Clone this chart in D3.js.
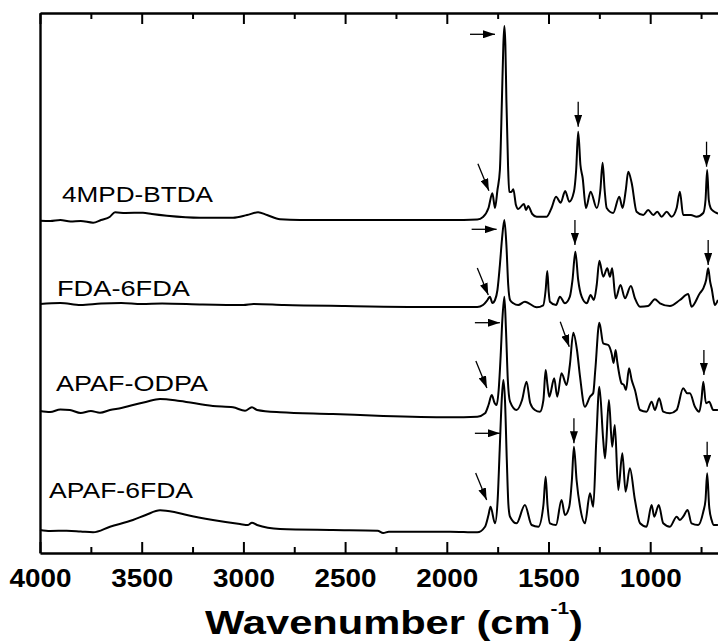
<!DOCTYPE html>
<html>
<head>
<meta charset="utf-8">
<script src="https://cdn.jsdelivr.net/npm/d3@7"></script>
<style>
  body { margin: 0; background: #fff; }
  svg { display: block; font-family: "Liberation Sans", Arial, sans-serif; }
</style>
</head>
<body>
<svg id="chart" width="718" height="642"></svg>
<script>
// FTIR spectra, values in arbitrary units (stacked, offset included)
const seriesNames = ["4MPD-BTDA", "FDA-6FDA", "APAF-ODPA", "APAF-6FDA"];

const btdaW = [4000,3950,3900,3850,3800,3739,3700,3656,3631,3580,3494,3450,3376,3213,3051,2982,2928,2884,2820,2722,2400,1984,1850,1822,1795,1776,1763,1751,1739,1729,1722,1717,1712,1707,1699,1693,1683,1673,1660,1649,1621,1610,1600,1580,1558,1509,1485,1463,1440,1418,1398,1375,1364,1354,1343,1332,1316,1293,1263,1245,1234,1224,1214,1182,1152,1136,1120,1108,1091,1067,1034,1010,985,965,944,919,895,870,854,838,800,772,739,728,720,712,703,690,673,650];
const btdaV = [332.3,332,333,331.5,332,330.3,333,336.3,340.7,340,340.3,339,337.3,335.3,335.3,338,340.7,338,333.7,333,333,333,333.5,336,345,359.7,345,363,383,453,508,527,508,453,388,361.3,361,363.7,348,344,349,343,347,339,336.3,336.3,345,356.3,350.3,362,351.3,361.3,383,421.3,388,375,345,361.3,345,363,390.3,363,345,340,356.3,345,363,381.3,370,341.3,338,343,338,341.3,336.3,341.3,336.3,345,361.3,338,338,336.3,340,353,383,353,345,342,340,339];

const fdaW = [4000,3900,3800,3700,3600,3500,3400,3200,3000,2950,2800,2500,2000,1850,1822,1800,1788,1776,1763,1751,1739,1729,1717,1707,1698,1689,1673,1649,1616,1558,1526,1514,1506,1499,1493,1463,1444,1419,1395,1382,1368,1354,1337,1312,1293,1277,1263,1250,1231,1211,1198,1187,1170,1146,1124,1095,1075,1050,1010,977,952,903,854,813,797,756,739,725,715,705,698,682,667];
const fdaV = [249,250,248,249.5,250,249,249.5,248.5,248,249,248,247,246,246,248,253,256.3,250,253,263,288,313,333,308,268,253,249.7,248,251.3,245.7,247.7,263,282,261,251.3,248,256.3,249.7,256.3,273,301.3,273,256.3,249.7,258,253,268,292.3,276.3,284.7,276.3,284.7,254.7,268,254.7,267,254.7,246.3,247,253.7,249.7,247,253,259,246.3,259.7,264.7,273,284.7,271,264.7,248,253];

const odpaW = [4000,3950,3900,3853,3800,3750,3705,3656,3600,3543,3480,3410,3312,3150,3051,2992,2958,2933,2820,2560,2313,1984,1850,1812,1795,1779,1765,1755,1745,1735,1727,1717,1709,1700,1689,1657,1630,1608,1590,1567,1542,1525,1514,1505,1496,1472,1457,1436,1411,1395,1378,1360,1345,1321,1296,1280,1270,1250,1231,1206,1190,1180,1170,1162,1141,1129,1119,1104,1091,1075,1050,1018,993,977,956,936,903,870,838,818,805,780,759,748,739,726,710,690,667];
const odpaV = [142,141,143.5,143,140,142,140.3,143,145,148,151,154,152,147,145.7,142.3,145.7,143,140.7,139,137,135.7,136.3,139.7,148,158,150,148,163,198,233,256.3,223,173,151.3,143,153,171.3,150,143,141.3,153,183,168,156.3,174.7,156.3,179.7,168,188,220.3,203,176.3,146.3,156.3,160,183,230.3,209.7,208,199.7,190,203,191.3,169.7,168,163,184.7,173,163,143,141.3,151.3,143,154.7,141.3,139.7,143,164.7,159.7,159.7,146.3,141.3,153,171.3,149.7,151.3,143,143];

const apafW = [4000,3950,3869,3800,3739,3656,3543,3480,3410,3340,3278,3150,3017,2977,2958,2933,2820,2560,2340,2313,2285,1984,1850,1812,1795,1785,1763,1750,1740,1730,1722,1714,1705,1697,1689,1657,1616,1583,1550,1525,1514,1505,1493,1463,1436,1419,1398,1385,1375,1362,1345,1321,1296,1280,1265,1250,1231,1222,1203,1187,1174,1157,1137,1121,1100,1075,1050,1018,993,980,958,936,903,870,854,838,816,797,764,739,728,720,710,698,687,667];
const apafV = [23,22,22.3,21.5,20.7,26.3,33,38,42.7,41,38,33,29,28,30.3,28,24,23,22.3,20,21.3,21.3,20.7,26.3,38,46.3,29.7,53,103,153,173,153,93,48,36.3,29.7,48,28,26.3,48,76.3,48,29.7,28,53,38,46.3,73,106.3,73,46.3,29.7,59.7,46.3,113,166.3,113,94.7,153,106.3,128,63,99.7,61.3,84.7,53,29.7,26.3,48,36.3,48,29.7,26.3,36.3,33,36.3,43,29.7,28,41.3,53,79.7,46.3,33,28,28];

// peak markers: tip position (wavenumber, a.u.) and direction
const arrowW = [1763,1793,1354,723, 1755,1796,1370,715, 1739,1398,1803,736, 1739,1804,1375,720];
const arrowV = [518.7,362.3,426.3,386.3, 323.7,258,308,288, 230.3,206.3,165,178, 119.7,53,109.7,86.3];
const arrowDir = ["h","d","v","v", "h","d","v","v", "h","d2","d","v", "h","d","v","v"];

const majorTicks = [4000,3500,3000,2500,2000,1500,1000];
const minorTicks = [3750,3250,2750,2250,1750,1250,750];

const series = [
  {name: seriesNames[0], w: btdaW, v: btdaV},
  {name: seriesNames[1], w: fdaW, v: fdaV},
  {name: seriesNames[2], w: odpaW, v: odpaV},
  {name: seriesNames[3], w: apafW, v: apafV}
];

// layout
const plotLeft = 40, plotTop = 13, plotBottom = 553;
const labelLayout = [
  {x: 62, y: 202, len: 151},
  {x: 57, y: 296, len: 133},
  {x: 56, y: 391, len: 152},
  {x: 49, y: 498, len: 144}
];

const svg = d3.select("#chart");

const x = d3.scaleLinear().domain([4000, 600]).range([plotLeft, plotLeft + 3400 * 0.2034]);
const y = d3.scaleLinear().domain([0, 540]).range([plotBottom, plotTop]);

svg.append("defs").append("marker")
  .attr("id", "head")
  .attr("markerUnits", "userSpaceOnUse")
  .attr("viewBox", "0 0 12 8")
  .attr("refX", 12).attr("refY", 4)
  .attr("markerWidth", 12).attr("markerHeight", 8)
  .attr("orient", "auto")
  .append("path")
  .attr("d", "M0,0 L12,4 L0,8 Z")
  .attr("fill", "#000");

// spectra
const line = d3.line()
  .x(d => x(d[0]))
  .y(d => y(d[1]))
  .curve(d3.curveMonotoneX);

svg.append("g")
  .selectAll("path")
  .data(series)
  .join("path")
  .attr("fill", "none")
  .attr("stroke", "#000")
  .attr("stroke-width", 2)
  .attr("stroke-linejoin", "round")
  .attr("d", s => line(s.w.map((w, i) => [w, s.v[i]])));

// arrows
const tailOffset = {h: [-25, 0], v: [0, -25], d: [-11, -27], d2: [-9, -25]};
svg.append("g")
  .selectAll("line")
  .data(arrowW.map((w, i) => ({w, v: arrowV[i], dir: arrowDir[i]})))
  .join("line")
  .attr("x1", d => x(d.w) + tailOffset[d.dir][0])
  .attr("y1", d => y(d.v) + tailOffset[d.dir][1])
  .attr("x2", d => x(d.w))
  .attr("y2", d => y(d.v))
  .attr("stroke", "#000")
  .attr("stroke-width", 1.3)
  .attr("marker-end", "url(#head)");

// series labels
svg.append("g")
  .selectAll("text")
  .data(series)
  .join("text")
  .attr("x", (d, i) => labelLayout[i].x)
  .attr("y", (d, i) => labelLayout[i].y)
  .attr("font-size", 22)
  .attr("textLength", (d, i) => labelLayout[i].len)
  .attr("lengthAdjust", "spacingAndGlyphs")
  .attr("fill", "#000")
  .text(d => d.name);

// axes
const styleAxis = g => {
  g.select(".domain").attr("stroke", "#000").attr("stroke-width", 2.4);
  g.selectAll(".tick line").attr("stroke", "#000").attr("stroke-width", 2);
};

const xBottom = svg.append("g")
  .attr("transform", `translate(0,${plotBottom})`)
  .call(d3.axisBottom(x).tickValues(majorTicks).tickSize(-11).tickSizeOuter(0).tickFormat(d3.format("d")))
  .call(styleAxis);
xBottom.selectAll(".tick text")
  .attr("y", 34).attr("dy", null)
  .attr("fill", "#000")
  .attr("font-size", 25)
  .attr("font-weight", "bold")
  .attr("font-family", "'Liberation Sans', Arial, sans-serif")
  .attr("textLength", 62)
  .attr("lengthAdjust", "spacingAndGlyphs");

svg.append("g")
  .attr("transform", `translate(0,${plotBottom})`)
  .call(d3.axisBottom(x).tickValues(minorTicks).tickSize(-6).tickSizeOuter(0).tickFormat(""))
  .call(styleAxis)
  .call(g => g.select(".domain").remove());

svg.append("g")
  .attr("transform", `translate(0,${plotTop})`)
  .call(d3.axisTop(x).tickValues(majorTicks).tickSize(-11).tickSizeOuter(0).tickFormat(""))
  .call(styleAxis);

svg.append("g")
  .attr("transform", `translate(0,${plotTop})`)
  .call(d3.axisTop(x).tickValues(minorTicks).tickSize(-6).tickSizeOuter(0).tickFormat(""))
  .call(styleAxis)
  .call(g => g.select(".domain").remove());

svg.append("g")
  .attr("transform", `translate(${plotLeft},0)`)
  .call(d3.axisLeft(y).tickValues([]).tickSizeOuter(0))
  .call(styleAxis);

// axis title
const title = svg.append("text")
  .attr("text-anchor", "middle")
  .attr("font-size", 34)
  .attr("font-weight", "bold")
  .attr("fill", "#000");
title.append("tspan").text("Wavenumber (cm");
title.append("tspan").attr("font-size", 17).attr("dy", -20).text("-1");
title.append("tspan").attr("dy", 20).text(")");
const tw = title.node().getBBox().width;
title.attr("transform", `translate(394,634) scale(${378 / tw},1)`);
</script>
</body>
</html>
